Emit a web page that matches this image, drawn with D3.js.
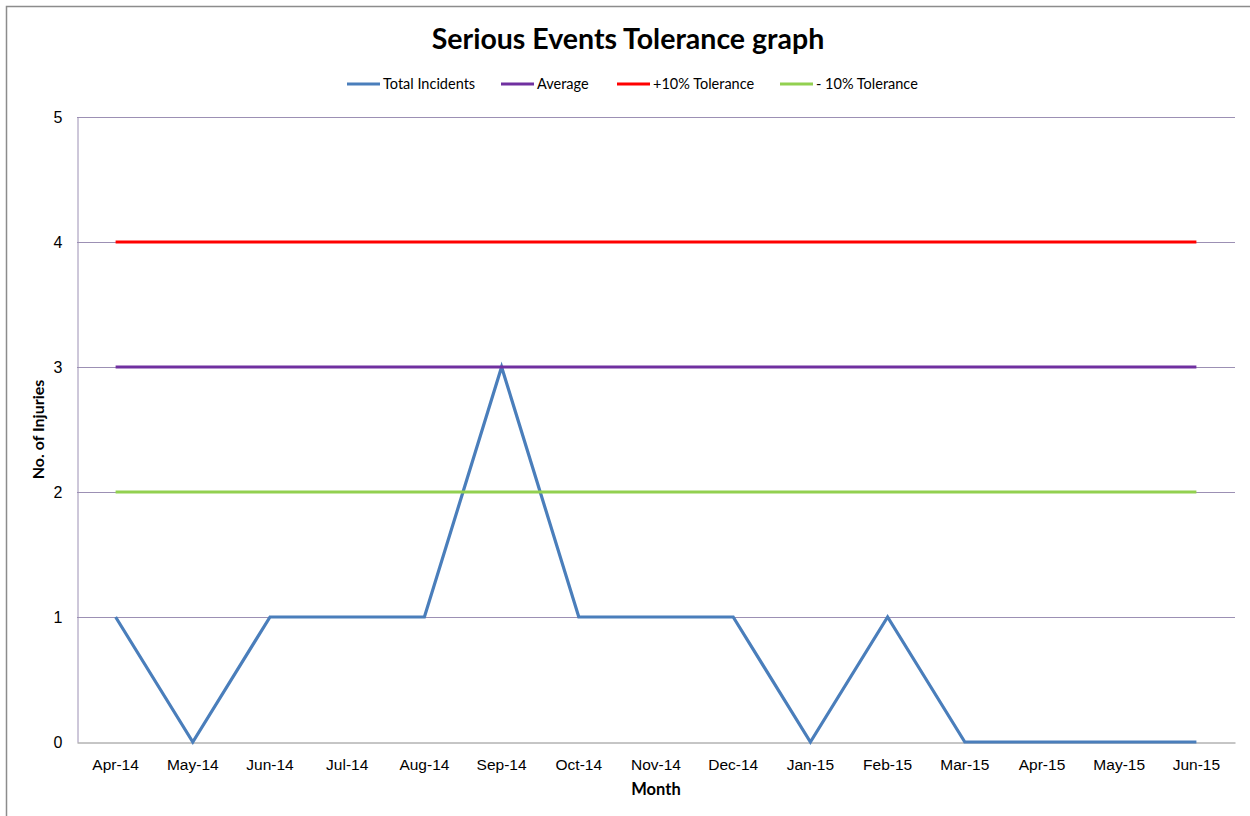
<!DOCTYPE html>
<html>
<head>
<meta charset="utf-8">
<script src="https://cdn.jsdelivr.net/npm/d3@7"></script>
<style>
  body { margin: 0; background: #fff; }
  svg { font-family: Lato, "Open Sans", sans-serif; }
</style>
</head>
<body>
<script>
const months = ["Apr-14", "May-14", "Jun-14", "Jul-14", "Aug-14", "Sep-14", "Oct-14",
  "Nov-14", "Dec-14", "Jan-15", "Feb-15", "Mar-15", "Apr-15", "May-15", "Jun-15"];
const totalIncidents = [1, 0, 1, 1, 1, 3, 1, 1, 1, 0, 1, 0, 0, 0, 0];
const average = [3, 3, 3, 3, 3, 3, 3, 3, 3, 3, 3, 3, 3, 3, 3];
const plusTolerance = [4, 4, 4, 4, 4, 4, 4, 4, 4, 4, 4, 4, 4, 4, 4];
const minusTolerance = [2, 2, 2, 2, 2, 2, 2, 2, 2, 2, 2, 2, 2, 2, 2];
const yTicks = [0, 1, 2, 3, 4, 5];

const series = [
  { name: "Total Incidents", values: totalIncidents, color: "#4a7ebb" },
  { name: "Average", values: average, color: "#7030a0" },
  { name: "+10% Tolerance", values: plusTolerance, color: "#ff0000" },
  { name: "- 10% Tolerance", values: minusTolerance, color: "#92d050" }
];

const width = 1250, height = 816;
const margin = { top: 117, right: 15, bottom: 74, left: 77 };

const svg = d3.select("body").append("svg")
  .attr("width", width)
  .attr("height", height);

// outer chart border
svg.append("path")
  .attr("d", `M6.5,${height} V6.5 H${width}`)
  .attr("fill", "none")
  .attr("stroke", "#8c8c8c")
  .attr("stroke-width", 1.5);

const x = d3.scaleBand()
  .domain(months)
  .range([margin.left, width - margin.right]);

const y = d3.scaleLinear()
  .domain([0, 5])
  .range([height - margin.bottom, margin.top]);

const cx = d => x(d) + x.bandwidth() / 2;

// gridlines
svg.append("g")
  .selectAll("line")
  .data(yTicks.filter(d => d > 0))
  .join("line")
    .attr("x1", margin.left)
    .attr("x2", width - margin.right)
    .attr("y1", d => Math.round(y(d)) + 0.5)
    .attr("y2", d => Math.round(y(d)) + 0.5)
    .attr("stroke", "#9c90b4");

// y axis
const yAxis = svg.append("g")
  .attr("transform", `translate(${margin.left + 0.5},0)`)
  .call(d3.axisLeft(y).tickValues(yTicks).tickSize(0).tickPadding(15).tickFormat(d3.format("d")));
yAxis.select(".domain").attr("stroke", "#9c90b4");
yAxis.selectAll("text").attr("font-size", 16).attr("fill", "#000");

// x axis
const xAxis = svg.append("g")
  .attr("transform", `translate(0,${Math.round(y(0)) + 0.5})`)
  .call(d3.axisBottom(x).tickSize(0).tickPadding(16));
xAxis.select(".domain").attr("stroke", "#8c8c8c");
xAxis.selectAll("text").attr("font-size", 15.5).attr("fill", "#000");

// lines
const line = d3.line()
  .x((d, i) => cx(months[i]))
  .y(d => y(d));

svg.append("g")
  .selectAll("path")
  .data(series)
  .join("path")
    .attr("d", d => line(d.values))
    .attr("fill", "none")
    .attr("stroke", d => d.color)
    .attr("stroke-width", 3.2)
    .attr("stroke-linejoin", "miter");

// title
svg.append("text")
  .attr("x", 628)
  .attr("y", 49)
  .attr("text-anchor", "middle")
  .attr("font-size", 28.5)
  .attr("font-weight", "bold")
  .text("Serious Events Tolerance graph");

// legend
const legendX = [347, 501, 617, 780];
const legend = svg.append("g")
  .selectAll("g")
  .data(series)
  .join("g")
    .attr("transform", (d, i) => `translate(${legendX[i]},84)`);

legend.append("line")
  .attr("x1", 0)
  .attr("x2", 33)
  .attr("stroke", d => d.color)
  .attr("stroke-width", 3);

legend.append("text")
  .attr("x", 36)
  .attr("dy", "0.35em")
  .attr("font-size", 14.5)
  .text(d => d.name);

// axis titles
svg.append("text")
  .attr("transform", `translate(44,${(y(0) + y(5)) / 2}) rotate(-90)`)
  .attr("text-anchor", "middle")
  .attr("font-size", 16)
  .attr("font-weight", "bold")
  .text("No. of Injuries");

svg.append("text")
  .attr("x", cx(months[7]))
  .attr("y", 795)
  .attr("text-anchor", "middle")
  .attr("font-size", 16.5)
  .attr("font-weight", "bold")
  .text("Month");
</script>
</body>
</html>
